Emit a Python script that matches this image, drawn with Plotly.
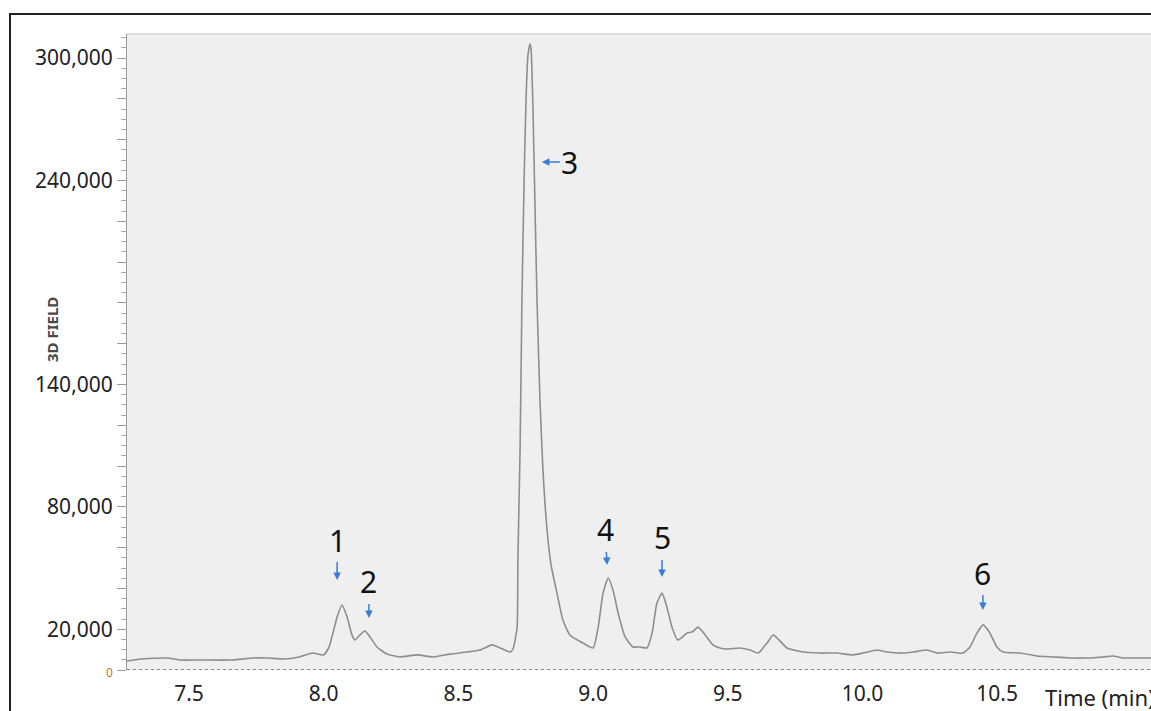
import plotly.graph_objects as go

# ---- chromatogram trace ----
time_min = [7.27, 7.32, 7.42, 7.47, 7.54, 7.66, 7.74, 7.79, 7.85, 7.91, 7.96, 8.00,
            8.02, 8.05, 8.068, 8.087, 8.105, 8.116, 8.135, 8.153, 8.172, 8.198, 8.235,
            8.283, 8.346, 8.406, 8.469, 8.532, 8.58, 8.625, 8.655, 8.692, 8.703, 8.718,
            8.721, 8.729, 8.736, 8.744, 8.751, 8.758, 8.766, 8.770, 8.777, 8.784, 8.792,
            8.803, 8.814, 8.829, 8.844, 8.866, 8.888, 8.914, 8.963, 9.000, 9.019, 9.037,
            9.056, 9.074, 9.093, 9.119, 9.148, 9.174, 9.200, 9.219, 9.237, 9.256, 9.274,
            9.293, 9.315, 9.349, 9.367, 9.390, 9.416, 9.445, 9.471, 9.497, 9.545, 9.583,
            9.612, 9.646, 9.668, 9.683, 9.720, 9.779, 9.842, 9.905, 9.965, 10.002, 10.054,
            10.091, 10.150, 10.188, 10.240, 10.277, 10.325, 10.373, 10.399, 10.425, 10.448,
            10.473, 10.499, 10.522, 10.585, 10.648, 10.707, 10.770, 10.834, 10.893, 10.930,
            10.967, 11.019, 11.071]
signal = [4400, 5400, 5900, 4900, 4900, 4900, 5900, 5900, 5400, 6400, 8300, 7400,
          11300, 26000, 31900, 26000, 17200, 14700, 17200, 19100, 16200, 11300, 7800,
          6400, 7400, 6400, 7800, 8800, 9800, 12300, 10800, 8800, 10300, 21000,
          54000, 108000, 181000, 240000, 279000, 301000, 307000, 304000, 275000, 230000, 181000,
          132000, 98000, 69000, 51500, 37700, 24500, 17200, 13200, 10800, 21000, 37700,
          45100, 39200, 27900, 16200, 11300, 11300, 10800, 18100, 32800, 37700, 30900,
          21000, 14700, 18100, 18600, 21000, 17200, 12300, 10800, 10300, 10800, 9800,
          8300, 13200, 17200, 15700, 10800, 8800, 8300, 8300, 7400, 8300, 9800,
          8800, 8300, 8800, 9800, 8300, 8800, 8300, 11300, 18100, 22100,
          18100, 11300, 8800, 8300, 6900, 6400, 5900, 5900, 6400, 6900,
          5900, 5900, 5900]

# ---- axes ----
y_tick_values = [0, 20000, 40000, 60000, 80000, 100000, 120000, 140000, 160000,
                 180000, 200000, 220000, 240000, 260000, 280000, 300000]
y_tick_labels = ['<span style="color:#c0772f;font-size:12px">0</span>', "20,000", "", "",
                 "80,000", "", "", "140,000", "", "", "", "", "240,000", "", "", "300,000"]
x_tick_values = [7.5, 8.0, 8.5, 9.0, 9.5, 10.0, 10.5]
x_tick_labels = ["7.5", "8.0", "8.5", "9.0", "9.5", "10.0", "10.5"]

# ---- peak markers ----
peak_labels = ["1", "2", "3", "4", "5", "6"]
peak_arrow_time = [8.05, 8.168, 8.81, 9.052, 9.256, 10.447]
peak_arrow_signal = [44100, 25500, 249000, 51500, 45600, 29400]
peak_text_dx = [0, 0, 28, -2, 0, 0]
peak_text_dy = [-40, -36, 0, -35, -39, -37]

FONT = "Noto Sans"
W, H = 1151, 711
L, R, T, B = 127, 0, 34, 41
pw, ph = W - L - R, H - T - B

def px_x(x):
    return (x - L) / pw

def px_y(y):
    return (H - B - y) / ph

fig = go.Figure()
fig.add_trace(go.Scatter(x=time_min, y=signal, mode="lines",
                         line=dict(color="#8e8e8e", width=1.6, shape="spline", smoothing=0.5),
                         hoverinfo="skip", showlegend=False))

annotations = []
for lab, t, s, dx, dy in zip(peak_labels, peak_arrow_time, peak_arrow_signal, peak_text_dx, peak_text_dy):
    annotations.append(dict(x=t, y=s, xref="x", yref="y", text=lab, showarrow=True,
                            ax=dx, ay=dy, arrowhead=2, arrowsize=1, arrowwidth=1.5,
                            arrowcolor="#3a7bd5",
                            font=dict(family=FONT, size=30, color="#111111")))
annotations.append(dict(x=px_x(52), y=px_y(330), xref="paper", yref="paper", text="<b>3D FIELD</b>",
                        textangle=-90, showarrow=False, xanchor="center", yanchor="middle",
                        font=dict(family=FONT, size=15, color="#4a4a4a")))
annotations.append(dict(x=px_x(1043), y=px_y(697), xref="paper", yref="paper", text="Time (min)",
                        showarrow=False, xanchor="left", yanchor="middle",
                        font=dict(family=FONT, size=22, color="#222222")))

shapes = [
    # outer dark frame
    dict(type="line", xref="paper", yref="paper", x0=px_x(10), x1=px_x(10), y0=px_y(13), y1=px_y(730),
         line=dict(color="#222222", width=2)),
    dict(type="line", xref="paper", yref="paper", x0=px_x(9), x1=px_x(1200), y0=px_y(14), y1=px_y(14),
         line=dict(color="#222222", width=2)),
    # light top border of plot area
    dict(type="line", xref="paper", yref="paper", x0=0, x1=1, y0=1, y1=1,
         line=dict(color="#dddddd", width=2)),
    # dotted x axis line
    dict(type="line", xref="paper", yref="y", x0=0, x1=1, y0=0, y1=0,
         line=dict(color="#8a8a8a", width=2, dash="dot")),
]

fig.update_layout(
    width=W, height=H,
    margin=dict(l=L, r=R, t=T, b=B, pad=0),
    paper_bgcolor="white", plot_bgcolor="#efefef",
    font=dict(family=FONT, color="#222222"),
    annotations=annotations, shapes=shapes, showlegend=False,
    xaxis=dict(range=[7.27, 11.071], tickvals=x_tick_values, ticktext=x_tick_labels,
               showgrid=False, zeroline=False, showline=False, ticks="",
               tickfont=dict(size=21, color="#222222"), ticklabelstandoff=9),
    yaxis=dict(range=[0, 311800], tickvals=y_tick_values, ticktext=y_tick_labels,
               showgrid=False, zeroline=False, showline=True, linecolor="#9a9a9a", linewidth=1,
               ticks="outside", ticklen=9, tickwidth=1, tickcolor="#9a9a9a",
               tickfont=dict(size=21, color="#222222"),
               minor=dict(dtick=5000, ticks="outside", ticklen=5, tickcolor="#a8a8a8", tickwidth=1)),
)

fig.write_html("out.html", config={"displayModeBar": False},
               post_script="document.body.style.margin='0';")
